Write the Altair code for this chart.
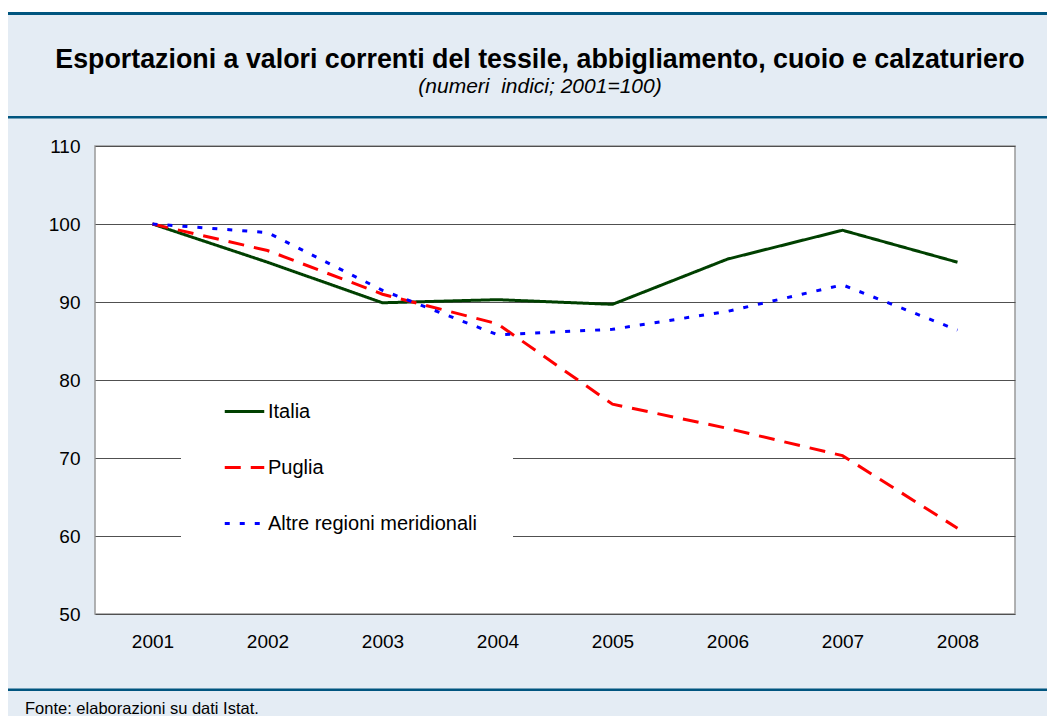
import altair as alt
import pandas as pd

# ---- data ----
years = ["2001", "2002", "2003", "2004", "2005", "2006", "2007", "2008"]
series_names = ["Italia", "Puglia", "Altre regioni meridionali"]
italia = [100.0, 95.1, 89.9, 90.3, 89.7, 95.5, 99.2, 95.1]
puglia = [100.0, 96.6, 91.0, 87.2, 76.9, 73.8, 70.3, 61.0]
altre = [100.0, 98.9, 91.5, 85.8, 86.5, 88.8, 92.2, 86.4]
y_ticks = [50, 60, 70, 80, 90, 100, 110]

title_text = "Esportazioni a valori correnti del tessile, abbigliamento, cuoio e calzaturiero"
subtitle_text = "(numeri\u00a0 indici; 2001=100)"
footer_text = "Fonte: elaborazioni su dati Istat."

rows = []
for name, vals in zip(series_names, [italia, puglia, altre]):
    for yr, v in zip(years, vals):
        rows.append({"anno": yr, "serie": name, "valore": v})
df = pd.DataFrame(rows)
one = pd.DataFrame({"k": [0]})

# ---- style ----
W, H = 920, 468
FONT = "Liberation Sans, Arial, sans-serif"
BG = "#E4ECF4"
DARK = "#00557F"
colors = ["#004000", "#FF0000", "#0000FF"]
dashes = [[1, 0], [16, 10], [5, 10]]

legend = alt.Legend(
    title=None, orient="none", legendX=128, legendY=244,
    symbolType="stroke", symbolSize=1560, symbolStrokeWidth=3,
    labelFontSize=20, labelFont=FONT, labelColor="black", labelLimit=500,
    labelOffset=2, rowPadding=24, padding=0,
)

lines = alt.Chart(df).mark_line(strokeWidth=3).encode(
    x=alt.X("anno:O", scale=alt.Scale(type="point", padding=0.5),
            axis=alt.Axis(title=None, labelAngle=0, labelFontSize=19, labelFont=FONT,
                          labelColor="black", labelPadding=18, ticks=False, domain=False)),
    y=alt.Y("valore:Q", scale=alt.Scale(domain=[50, 110], nice=False, zero=False),
            axis=alt.Axis(title=None, values=y_ticks, grid=True, gridColor="#505050",
                          gridWidth=1, labelFontSize=19, labelFont=FONT, labelColor="black",
                          labelPadding=15, ticks=False, domain=False)),
    color=alt.Color("serie:N", scale=alt.Scale(domain=series_names, range=colors),
                    sort=series_names, legend=legend),
    strokeDash=alt.StrokeDash("serie:N", scale=alt.Scale(domain=series_names, range=dashes),
                              sort=series_names, legend=legend),
    order=alt.Order("anno:O"),
)

def rect(x1, x2, y1, y2, color):
    return alt.Chart(one).mark_rect(color=color).encode(
        x=alt.value(x1), x2=alt.value(x2), y=alt.value(y1), y2=alt.value(y2))

top_white = rect(-87, 952, -138, -134, "white")
line1 = rect(-87, 952, -134, -131, DARK)
line2 = rect(-87, 952, -30, -27.5, DARK)
line3 = rect(-87, 952, 542.5, 545, DARK)
legend_box = rect(86, 418, 238, 402, "white")

title = alt.Chart(one).mark_text(font=FONT, fontSize=26.8, fontWeight="bold", color="black",
                                 align="center", baseline="alphabetic").encode(
    x=alt.value(445), y=alt.value(-78), text=alt.value(title_text))
subtitle = alt.Chart(one).mark_text(font=FONT, fontSize=21, fontStyle="italic", color="black",
                                    align="center", baseline="alphabetic").encode(
    x=alt.value(445), y=alt.value(-53), text=alt.value(subtitle_text))
footer = alt.Chart(one).mark_text(font=FONT, fontSize=16.5, color="black",
                                  align="left", baseline="alphabetic").encode(
    x=alt.value(-70), y=alt.value(568), text=alt.value(footer_text))

chart = alt.layer(
    top_white, line1, line2, line3, legend_box, lines, title, subtitle, footer
).properties(
    width=W, height=H,
    padding={"left": 87, "top": 138, "right": 32, "bottom": 102},
    autosize=alt.AutoSizeParams(type="none"),
).configure(
    background=BG,
).configure_view(
    fill="white", stroke="#999999", strokeWidth=1.5,
)

chart.save("out.html", embed_options={"renderer": "svg", "actions": False})
